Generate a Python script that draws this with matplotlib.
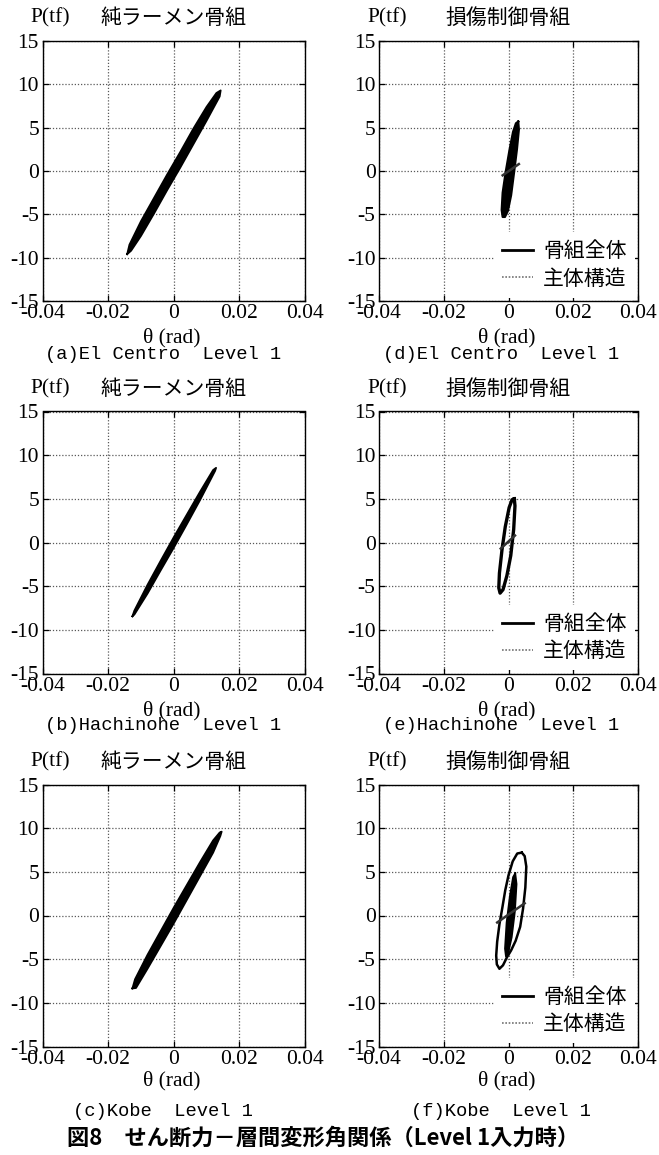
import matplotlib
matplotlib.use("Agg")
import matplotlib.pyplot as plt
from matplotlib.lines import Line2D

W, H = 659, 1155

# ---------------- data ----------------
# left column: pure rigid frame (純ラーメン骨組) - outline of the hysteresis band
a_theta = [-0.0142, -0.0135, -0.0100, -0.0060, -0.0020, 0.0020, 0.0060, 0.0100, 0.0130, 0.0143,
           0.0140, 0.0100, 0.0060, 0.0020, -0.0020, -0.0060, -0.0100, -0.0130, -0.0142]
a_P = [-9.6, -8.5, -5.8, -3.1, -0.4, 2.2, 4.9, 7.4, 9.0, 9.3,
       8.6, 5.8, 3.1, 0.4, -2.2, -4.9, -7.5, -9.2, -9.6]

b_theta = [-0.0126, -0.0120, -0.0080, -0.0040, 0.0000, 0.0040, 0.0080, 0.0120, 0.0129,
           0.0126, 0.0080, 0.0040, 0.0000, -0.0040, -0.0080, -0.0120, -0.0126]
b_P = [-8.45, -7.8, -4.85, -2.1, 0.6, 3.2, 5.8, 8.3, 8.55,
       8.2, 4.85, 2.1, -0.6, -3.2, -5.85, -8.25, -8.45]

c_theta = [-0.0126, -0.0118, -0.0080, -0.0040, 0.0000, 0.0040, 0.0080, 0.0120, 0.0140, 0.0146,
           0.0142, 0.0120, 0.0080, 0.0040, 0.0000, -0.0040, -0.0080, -0.0115, -0.0126]
c_P = [-8.35, -7.3, -4.5, -1.8, 0.9, 3.5, 6.1, 8.6, 9.5, 9.6,
       9.1, 7.2, 4.5, 1.8, -0.9, -3.5, -6.1, -8.3, -8.35]

# right column: damage-controlled frame (損傷制御骨組)
d_outer_theta = [0.0030, 0.0032, 0.0026, 0.0017, 0.0008, -0.0002, -0.0011, -0.0018, -0.0021,
                 -0.0018, -0.0009, 0.0003, 0.0014, 0.0023, 0.0030]
d_outer_P = [5.7, 4.8, 2.5, -0.2, -2.8, -4.6, -5.3, -5.3, -4.5, -2.5, -0.2, 2.4, 4.5, 5.5, 5.7]
d_main_theta = [-0.0018, 0.0032]
d_main_P = [-0.5, 0.8]

e_outer_theta = [0.0018, 0.0020, 0.0016, 0.0007, -0.0005, -0.0017, -0.0026, -0.0030, -0.0028,
                 -0.0020, -0.0010, 0.0002, 0.0011, 0.0018]
e_outer_P = [5.0, 4.2, 1.5, -1.5, -3.8, -5.4, -5.8, -5.2, -3.5, -0.8, 1.8, 4.0, 4.9, 5.0]
e_main_theta = [-0.0024, 0.0020]
e_main_P = [-0.7, 0.8]

f_outer_theta = [0.0041, 0.0050, 0.0055, 0.0052, 0.0045, 0.0036, 0.0022, 0.0008, -0.0005, -0.0017,
                 -0.0028, -0.0036, -0.0038, -0.0035, -0.0028, -0.0019, -0.0010, 0.0000, 0.0013,
                 0.0027, 0.0041]
f_outer_P = [7.2, 6.8, 5.6, 3.2, 0.8, -1.3, -2.9, -4.0, -4.8, -5.7,
             -6.1, -5.6, -4.6, -3.0, -1.0, 0.9, 2.9, 4.6, 6.2, 7.1, 7.2]
f_inner_theta = [0.0021, 0.0025, 0.0020, 0.0010, -0.0002, -0.0008, -0.0011, -0.0006, 0.0004, 0.0014, 0.0021]
f_inner_P = [4.85, 3.6, 0.5, -2.5, -4.5, -4.7, -3.8, -0.8, 2.2, 4.4, 4.85]
f_main_theta = [-0.0035, 0.0050]
f_main_P = [-0.8, 1.4]

x_ticks = [-0.04, -0.02, 0, 0.02, 0.04]
x_ticklabels = ["-0.04", "-0.02", "0", "0.02", "0.04"]
y_ticks = [-15, -10, -5, 0, 5, 10, 15]
y_ticklabels = ["-15", "-10", "-5", "0", "5", "10", "15"]

left_title = "純ラーメン骨組"
right_title = "損傷制御骨組"
legend_labels = ["骨組全体", "主体構造"]
captions_left = ["(a)El Centro  Level 1", "(b)Hachinohe  Level 1", "(c)Kobe  Level 1"]
captions_right = ["(d)El Centro  Level 1", "(e)Hachinohe  Level 1", "(f)Kobe  Level 1"]
fig_title = "図8　せん断力－層間変形角関係（Level 1入力時）"

# ---------------- layout ----------------
SERIF = ["Liberation Serif", "DejaVu Serif"]
CJK = ["Noto Sans CJK JP", "DejaVu Sans"]
MONO = ["Liberation Mono", "DejaVu Sans Mono"]

fig = plt.figure(figsize=(W / 100, H / 100), dpi=100)
fig.patch.set_facecolor("white")

# (top, bottom) / (left, right) in pixels
rows = [(41, 301), (411.5, 673.5), (784.5, 1046.5)]
cols = [(42.5, 305), (379, 638)]
xlab_y = [338, 711, 1081]
cap_y = [355, 726, 1112]


def px(x, y):
    return x / W, 1 - y / H


def make_ax(col, row):
    l, r = cols[col]
    t, b = rows[row]
    ax = fig.add_axes([l / W, 1 - b / H, (r - l) / W, (b - t) / H])
    ax.set_xlim(-0.04, 0.04)
    ax.set_ylim(-15, 15)
    ax.set_xticks(x_ticks)
    ax.set_xticklabels(x_ticklabels, fontfamily=SERIF, fontsize=15.5)
    ax.set_yticks(y_ticks)
    ax.set_yticklabels(y_ticklabels, fontfamily=SERIF, fontsize=15.5)
    ax.tick_params(direction="in", length=4, width=0.9, top=True, right=True, pad=2.5)
    ax.grid(True, linestyle=(0, (1, 1.5)), color="0.35", linewidth=0.9)
    for s in ax.spines.values():
        s.set_linewidth(1.0)
    ax.set_axisbelow(True)
    # titles
    fig.text(*px(l + 8, t - 23), "P(tf)", fontfamily=SERIF, fontsize=15.5, ha="center", va="center")
    fig.text(*px((l + r) / 2, t - 23), left_title if col == 0 else right_title,
             fontfamily=CJK, fontsize=15, ha="center", va="center")
    fig.text(*px((l + r) / 2 - 2, xlab_y[row]), "θ (rad)", fontfamily=SERIF, fontsize=15.5,
             ha="center", va="center")
    cap = captions_left[row] if col == 0 else captions_right[row]
    cx = 163 if col == 0 else 501
    fig.text(*px(cx, cap_y[row]), cap, fontfamily=MONO, fontsize=13.5, ha="center", va="center")
    return ax


left_data = [(a_theta, a_P), (b_theta, b_P), (c_theta, c_P)]
for i, (th, p) in enumerate(left_data):
    ax = make_ax(0, i)
    ax.fill(th, p, color="black", lw=0, zorder=3)
    ax.plot(th, p, color="black", lw=1.3, zorder=3)

right_data = [
    (d_outer_theta, d_outer_P, None, None, d_main_theta, d_main_P, True),
    (e_outer_theta, e_outer_P, None, None, e_main_theta, e_main_P, False),
    (f_outer_theta, f_outer_P, f_inner_theta, f_inner_P, f_main_theta, f_main_P, False),
]
for i, (ot, op, it, ip, mt, mp, filled) in enumerate(right_data):
    ax = make_ax(1, i)
    if filled:
        ax.fill(ot, op, color="black", lw=0, zorder=3)
        ax.plot(ot, op, color="black", lw=1.6, zorder=3)
    else:
        ax.plot(ot, op, color="black", lw=2.4 if i == 1 else 1.8, zorder=3)
    if it is not None:
        ax.fill(it, ip, color="black", lw=0, zorder=3)
        ax.plot(it, ip, color="black", lw=1.2, zorder=3)
    ax.plot(mt, mp, color="0.2", lw=1.8, zorder=4)
    handles = [Line2D([], [], color="black", lw=2.0),
               Line2D([], [], color="0.45", lw=1.2, linestyle=(0, (1, 1)))]
    leg = ax.legend(handles, legend_labels, loc="lower right", frameon=True, facecolor="white",
                    edgecolor="none", framealpha=1.0, fancybox=False,
                    prop={"family": CJK, "size": 15}, handlelength=1.45, handletextpad=0.5,
                    labelspacing=0.25, borderaxespad=0.15, borderpad=0.4)
    leg.set_zorder(5)

fig.text(*px(323, 1138), fig_title, fontfamily=CJK, fontsize=16, fontweight="bold",
         ha="center", va="center")

fig.savefig("out.png", dpi=100, facecolor="white")
